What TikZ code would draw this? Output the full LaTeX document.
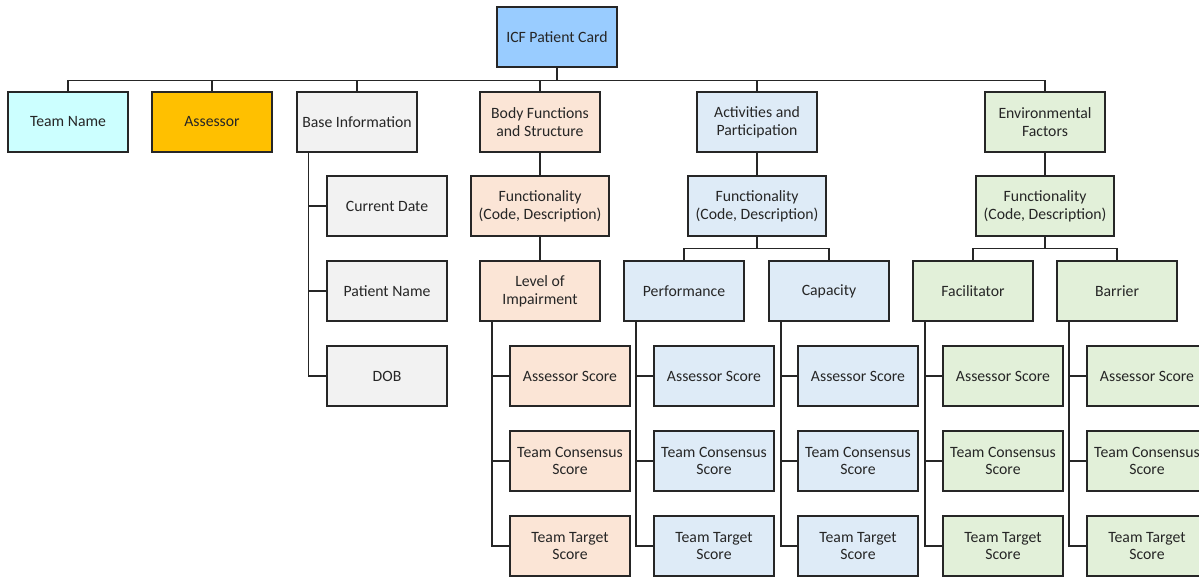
\documentclass[tikz,border=0pt]{standalone}
\usepackage{fontspec}
\setmainfont{Carlito}
\usepackage{xcolor}
\usepackage{tikz}
\usetikzlibrary{positioning}

\definecolor{cardblue}{HTML}{99CCFF}
\definecolor{teamcyan}{HTML}{CCFFFF}
\definecolor{assessorgold}{HTML}{FFC000}
\definecolor{basegray}{HTML}{F2F2F2}
\definecolor{bodypeach}{HTML}{FBE5D6}
\definecolor{actblue}{HTML}{DEEBF7}
\definecolor{envgreen}{HTML}{E2F0D9}
\definecolor{linegray}{HTML}{262626}

\tikzset{
	box/.style={draw=linegray,line width=1.1pt,minimum width=90pt,minimum height=45pt,
		inner sep=1pt,align=center,font=\fontsize{11.8}{13.2}\selectfont,text=linegray},
	widebox/.style={box,minimum width=103.5pt},
	link/.style={draw=linegray,line width=1pt}
}

\begin{document}
\begin{tikzpicture}[x=0.75pt,y=-0.75pt]
		\useasboundingbox (0,0) rectangle (1199,576);
		\node[box,fill=cardblue] (card) at (557,37) {ICF Patient Card};
		% first row
		\node[box,fill=teamcyan] (team) at (68,122) {Team Name};
		\node[box,fill=assessorgold] (assessor) at (212,122) {Assessor};
		\node[box,fill=basegray] (base) at (357,122) {Base Information};
		\node[box,fill=bodypeach] (body) at (540,122) {Body Functions\\and Structure};
		\node[box,fill=actblue] (act) at (757,122) {Activities and\\Participation};
		\node[box,fill=envgreen] (env) at (1045,122) {Environmental\\Factors};
		% base information
		\node[box,fill=basegray] (date) at (387,206) {Current Date};
		\node[box,fill=basegray] (pname) at (387,291) {Patient Name};
		\node[box,fill=basegray] (dob) at (387,376) {DOB};
		% body functions and structure
		\node[widebox,fill=bodypeach] (bodyfun) at (540,206) {Functionality\\(Code, Description)};
		\node[box,fill=bodypeach] (level) at (540,291) {Level of\\Impairment};
		\node[box,fill=bodypeach] (lvlA) at (570,376) {Assessor Score};
		\node[box,fill=bodypeach] (lvlC) at (570,461) {Team Consensus\\Score};
		\node[box,fill=bodypeach] (lvlT) at (570,546) {Team Target\\Score};
		% activities and participation
		\node[widebox,fill=actblue] (actfun) at (757,206) {Functionality\\(Code, Description)};
		\node[box,fill=actblue] (perf) at (684,291) {Performance};
		\node[box,fill=actblue] (capa) at (829,291) {Capacity};
		\node[box,fill=actblue] (perfA) at (714,376) {Assessor Score};
		\node[box,fill=actblue] (perfC) at (714,461) {Team Consensus\\Score};
		\node[box,fill=actblue] (perfT) at (714,546) {Team Target\\Score};
		\node[box,fill=actblue] (capaA) at (858,376) {Assessor Score};
		\node[box,fill=actblue] (capaC) at (858,461) {Team Consensus\\Score};
		\node[box,fill=actblue] (capaT) at (858,546) {Team Target\\Score};
		% environmental factors
		\node[widebox,fill=envgreen] (envfun) at (1045,206) {Functionality\\(Code, Description)};
		\node[box,fill=envgreen] (faci) at (973,291) {Facilitator};
		\node[box,fill=envgreen] (barr) at (1117,291) {Barrier};
		\node[box,fill=envgreen] (faciA) at (1003,376) {Assessor Score};
		\node[box,fill=envgreen] (faciC) at (1003,461) {Team Consensus\\Score};
		\node[box,fill=envgreen] (faciT) at (1003,546) {Team Target\\Score};
		\node[box,fill=envgreen] (barrA) at (1147,376) {Assessor Score};
		\node[box,fill=envgreen] (barrC) at (1147,461) {Team Consensus\\Score};
		\node[box,fill=envgreen] (barrT) at (1147,546) {Team Target\\Score};
		%
		% top bus
		\foreach \n in {team,assessor,base,body,act,env}
			\draw[link] (card.south) -- ++(0,13) -| (\n.north);
		% straight links
		\draw[link] (body.south) -- (bodyfun.north);
		\draw[link] (bodyfun.south) -- (level.north);
		\draw[link] (act.south) -- (actfun.north);
		\draw[link] (env.south) -- (envfun.north);
		% second bus
		\foreach \n in {perf,capa}
			\draw[link] (actfun.south) -- ++(0,12) -| (\n.north);
		\foreach \n in {faci,barr}
			\draw[link] (envfun.south) -- ++(0,12) -| (\n.north);
		% side links
		\foreach \n in {date,pname,dob}
			\draw[link] ([xshift=9pt]base.south west) |- (\n.west);
		\foreach \p/\c in {level/lvl,perf/perf,capa/capa,faci/faci,barr/barr}
			\foreach \s in {A,C,T}
				\draw[link] ([xshift=9.5pt]\p.south west) |- (\c\s.west);
\end{tikzpicture}
\end{document}
